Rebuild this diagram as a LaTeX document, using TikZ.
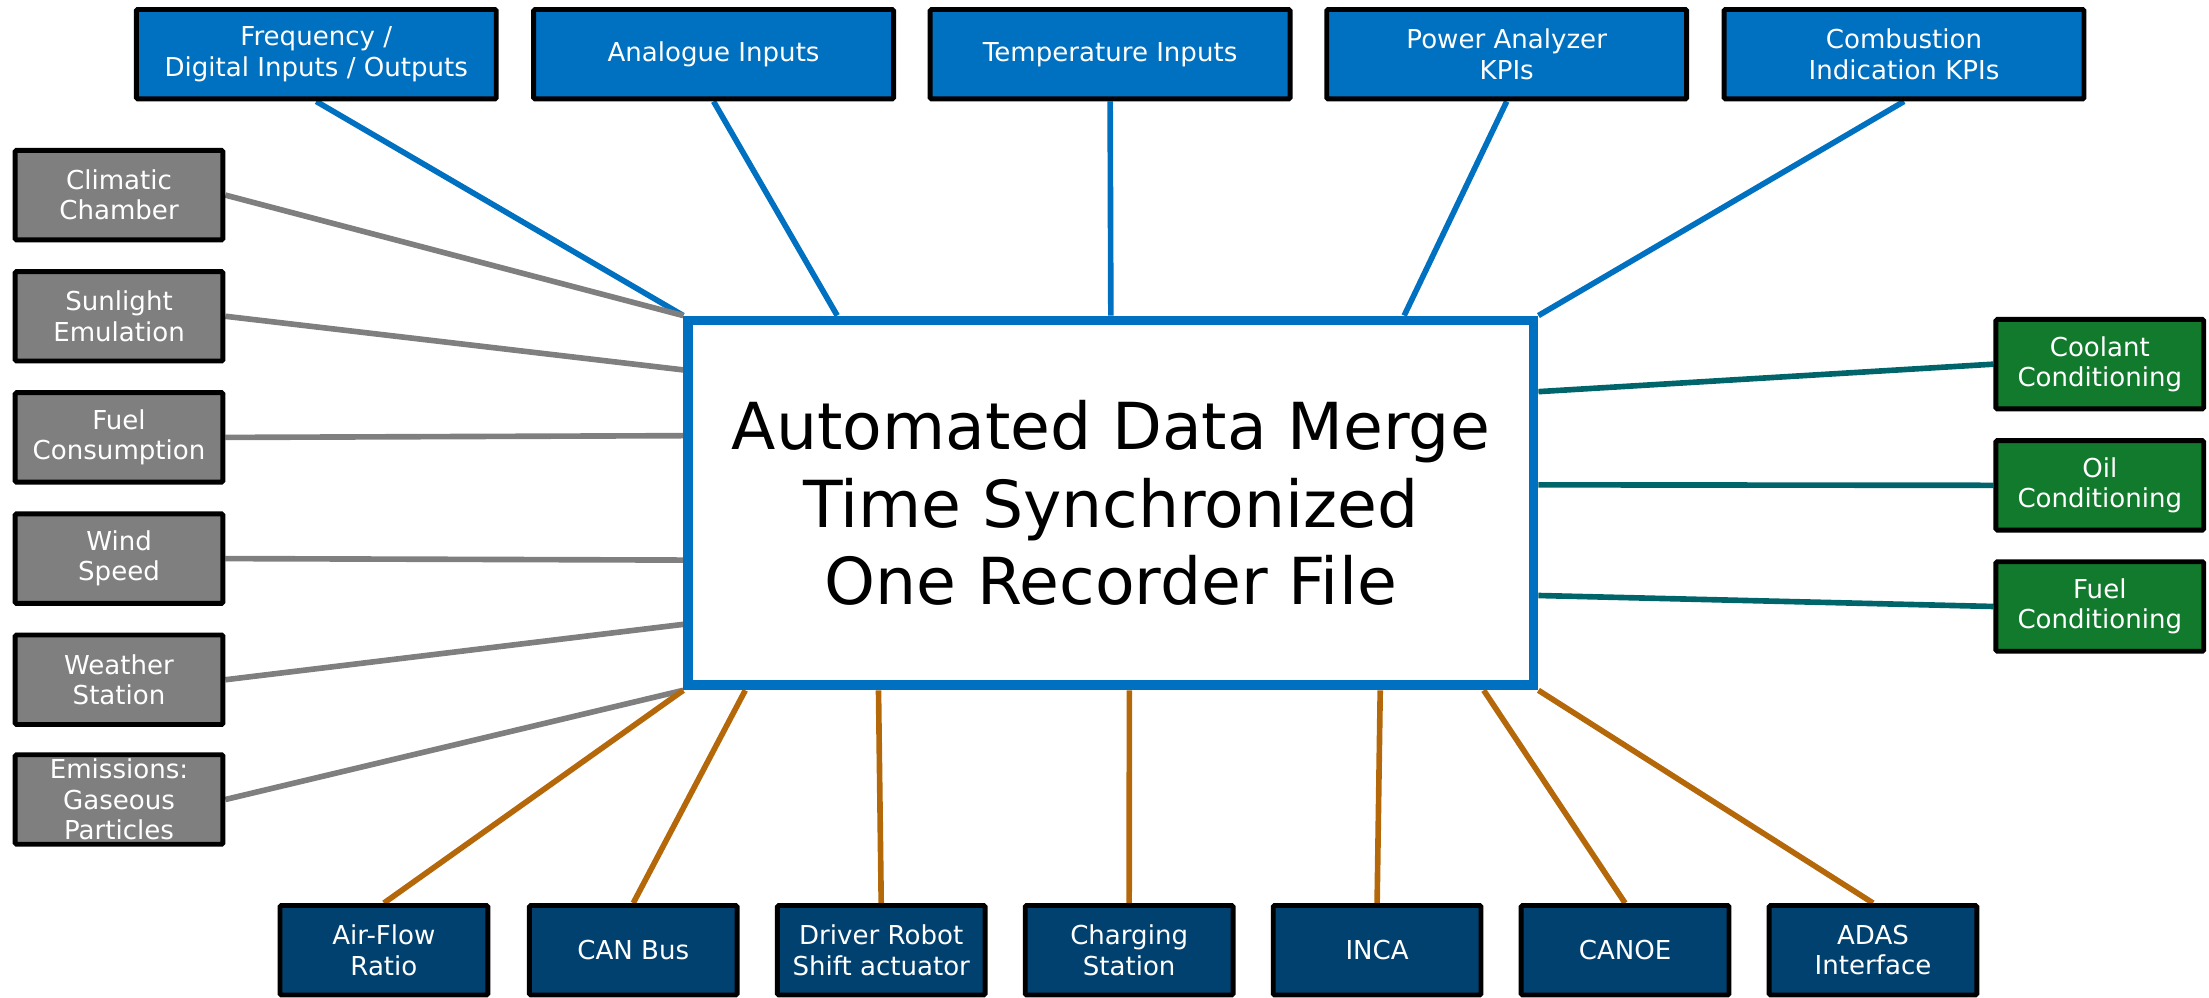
\documentclass[tikz,border=0pt]{standalone}
\usepackage{fontspec}
\setmainfont{DejaVu Sans}
\usetikzlibrary{calc}
\definecolor{topblue}{HTML}{0070C0}
\definecolor{boxgray}{HTML}{7F7F7F}
\definecolor{boxgreen}{HTML}{127A2C}
\definecolor{boxnavy}{HTML}{00416F}
\definecolor{lineteal}{HTML}{00656A}
\definecolor{lineorange}{HTML}{B5680A}
\pgfdeclarelayer{bg}
\pgfsetlayers{bg,main}
\tikzset{
  srcbox/.style={draw=black, line width=3.5pt, rounded corners=1pt, text=white, align=center,
    inner sep=0pt, font=\fontsize{18.5}{21.5}\selectfont},
  topbox/.style={srcbox, fill=topblue, minimum width=255.5pt, minimum height=63.5pt},
  leftbox/.style={srcbox, fill=boxgray, minimum width=147.5pt, minimum height=63.5pt},
  rightbox/.style={srcbox, fill=boxgreen, minimum width=147.5pt, minimum height=63.5pt},
  botbox/.style={srcbox, fill=boxnavy, minimum width=147.5pt, minimum height=63.5pt},
  hub/.style={draw=topblue, line width=7pt, fill=white, minimum width=600pt, minimum height=259pt,
    align=center, inner sep=0pt, font=\fontsize{46}{55}\selectfont},
  bl/.style={line width=4pt, draw=topblue},
  gl/.style={line width=4pt, draw=boxgray},
  tl/.style={line width=4pt, draw=lineteal},
  ol/.style={line width=4pt, draw=lineorange}
}
\begin{document}
\begin{tikzpicture}[x=1pt,y=-1pt]
\useasboundingbox (0,0) rectangle (1568,708);
\node[hub] (c) at (788.5,357) {Automated Data Merge\\Time Synchronized\\One Recorder File};
% top
\node[topbox] (freq) at (224.5,38.5) {Frequency /\\Digital Inputs / Outputs};
\node[topbox] (ana) at (506.5,38.5) {Analogue Inputs};
\node[topbox] (temp) at (788,38.5) {Temperature Inputs};
\node[topbox] (pow) at (1069.5,38.5) {Power Analyzer\\KPIs};
\node[topbox] (comb) at (1351.5,38.5) {Combustion\\Indication KPIs};
% left
\node[leftbox] (clim) at (84.5,138.5) {Climatic\\Chamber};
\node[leftbox] (sun) at (84.5,224.5) {Sunlight\\Emulation};
\node[leftbox] (fuelc) at (84.5,310.5) {Fuel\\Consumption};
\node[leftbox] (wind) at (84.5,396.5) {Wind\\Speed};
\node[leftbox] (weat) at (84.5,482.5) {Weather\\Station};
\node[leftbox] (emis) at (84.5,567.5) {Emissions:\\Gaseous\\Particles};
% right
\node[rightbox] (cool) at (1490.5,258.5) {Coolant\\Conditioning};
\node[rightbox] (oil) at (1490.5,344.5) {Oil\\Conditioning};
\node[rightbox] (fcond) at (1490.5,430.5) {Fuel\\Conditioning};
% bottom
\node[botbox] (air) at (272.5,674.5) {Air-Flow\\Ratio};
\node[botbox] (can) at (449.5,674.5) {CAN Bus};
\node[botbox] (drv) at (625.5,674.5) {Driver Robot\\Shift actuator};
\node[botbox] (chg) at (801.5,674.5) {Charging\\Station};
\node[botbox] (inca) at (977.5,674.5) {INCA};
\node[botbox] (canoe) at (1153.5,674.5) {CANOE};
\node[botbox] (adas) at (1329.5,674.5) {ADAS\\Interface};
\begin{pgfonlayer}{bg}
% top connectors
\draw[bl] (freq.south) -- (c.north west);
\draw[bl] (ana.south) -- ($(c.north west)!0.18!(c.north east)$);
\draw[bl] (temp.south) -- (c.north);
\draw[bl] (pow.south) -- ($(c.north west)!0.843!(c.north east)$);
\draw[bl] (comb.south) -- (c.north east);
% left connectors
\draw[gl] (clim.east) -- (c.north west);
\draw[gl] (sun.east) -- ($(c.north west)!0.145!(c.south west)$);
\draw[gl] (fuelc.east) -- ($(c.north west)!0.3205!(c.south west)$);
\draw[gl] (wind.east) -- ($(c.north west)!0.6525!(c.south west)$);
\draw[gl] (weat.east) -- ($(c.north west)!0.824!(c.south west)$);
\draw[gl] (emis.east) -- (c.south west);
% right connectors
\draw[tl] (cool.west) -- ($(c.north east)!0.203!(c.south east)$);
\draw[tl] (oil.west) -- ($(c.north east)!0.4517!(c.south east)$);
\draw[tl] (fcond.west) -- ($(c.north east)!0.747!(c.south east)$);
% bottom connectors
\draw[ol] (air.north) -- (c.south west);
\draw[ol] (can.north) -- ($(c.south west)!0.0725!(c.south east)$);
\draw[ol] (drv.north) -- ($(c.south west)!0.2283!(c.south east)$);
\draw[ol] (chg.north) -- ($(c.south west)!0.5217!(c.south east)$);
\draw[ol] (inca.north) -- ($(c.south west)!0.815!(c.south east)$);
\draw[ol] (canoe.north) -- ($(c.south west)!0.936!(c.south east)$);
\draw[ol] (adas.north) -- (c.south east);
\end{pgfonlayer}
\end{tikzpicture}
\end{document}
